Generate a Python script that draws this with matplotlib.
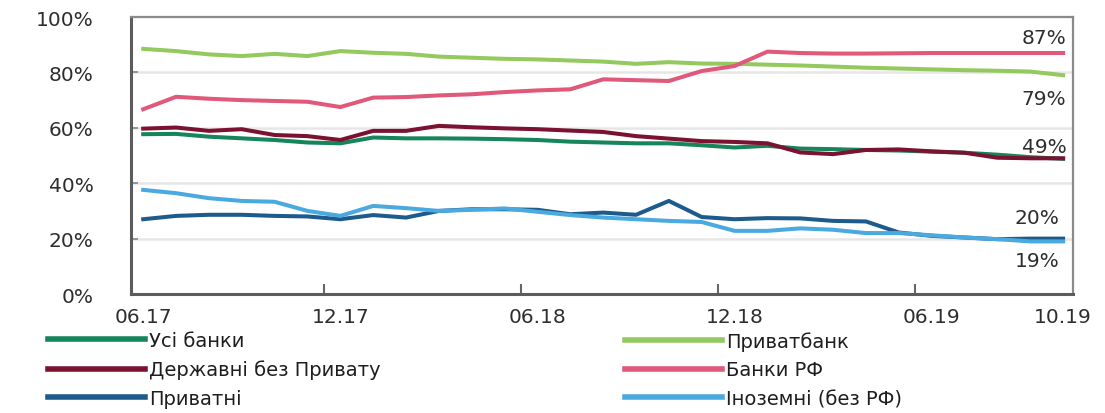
import numpy as np
import pandas as pd
import matplotlib
matplotlib.use("Agg")
import matplotlib.pyplot as plt
from matplotlib.ticker import FixedLocator, FuncFormatter

# Monthly shares, June 2017 - October 2019
months = pd.period_range("2017-06", "2019-10", freq="M")

usi_banky = [57.7, 57.8, 56.8, 56.2, 55.6, 54.7, 54.4, 56.5, 56.2, 56.2, 56.1, 55.9, 55.6, 55.0, 54.7,
             54.4, 54.4, 53.7, 52.9, 53.5, 52.5, 52.3, 52.0, 51.8, 51.4, 51.0, 50.3, 49.4, 48.8]
pryvatbank = [88.5, 87.7, 86.5, 85.9, 86.7, 85.9, 87.7, 87.1, 86.7, 85.7, 85.3, 84.9, 84.7, 84.3, 83.9,
              83.1, 83.7, 83.2, 83.1, 82.8, 82.5, 82.1, 81.7, 81.4, 81.1, 80.8, 80.6, 80.3, 79.0]
derzhavni = [59.7, 60.1, 58.9, 59.5, 57.4, 57.0, 55.6, 58.9, 58.9, 60.7, 60.2, 59.8, 59.5, 59.0, 58.5,
             57.0, 56.1, 55.2, 54.9, 54.4, 51.1, 50.5, 52.0, 52.2, 51.5, 51.0, 49.2, 49.0, 49.0]
banky_rf = [66.7, 71.2, 70.5, 70.0, 69.7, 69.4, 67.5, 70.9, 71.1, 71.7, 72.1, 72.9, 73.5, 73.9, 77.5,
            77.2, 76.9, 80.5, 82.3, 87.5, 87.0, 86.8, 86.8, 86.9, 87.0, 87.0, 87.0, 87.0, 87.0]
pryvatni = [27.0, 28.2, 28.6, 28.6, 28.2, 28.0, 27.0, 28.5, 27.6, 30.0, 30.6, 30.6, 30.4, 28.8, 29.4,
            28.6, 33.6, 27.8, 27.0, 27.4, 27.3, 26.4, 26.2, 22.2, 21.0, 20.4, 19.8, 20.0, 20.0]
inozemni = [37.6, 36.4, 34.6, 33.6, 33.3, 30.0, 28.2, 31.8, 31.0, 30.0, 30.4, 30.9, 29.7, 28.5, 27.6,
            27.0, 26.4, 26.0, 22.8, 22.8, 23.7, 23.2, 22.0, 22.0, 21.2, 20.4, 19.8, 19.0, 19.0]

series_names = ["Усі банки", "Приватбанк", "Державні без Привату", "Банки РФ", "Приватні", "Іноземні (без РФ)"]
series_colors = ["#17855a", "#93c95e", "#7b1232", "#e0587a", "#1d5b8c", "#4aa9df"]

tick_labels = ["06.17", "12.17", "06.18", "12.18", "06.19", "10.19"]
y_ticks = [0, 20, 40, 60, 80, 100]

plt.rcParams["font.family"] = ["DejaVu Sans"]

fig = plt.figure(figsize=(11.05, 4.14), dpi=100)
ax = fig.add_axes([0.1186, 0.2874, 0.8524, 0.6691])

x = np.arange(len(months))
all_series = [usi_banky, pryvatbank, derzhavni, banky_rf, pryvatni, inozemni]
handles = []
for name, vals, col in zip(series_names, all_series, series_colors):
    (ln,) = ax.plot(x, vals, color=col, lw=2.9, solid_joinstyle="round", label=name, zorder=3)
    handles.append(ln)

ax.set_xlim(-0.37, 28.3)
ax.set_ylim(0, 100)

# x labels at the listed months, tick marks between categories
month_codes = [m.strftime("%m.%y") for m in months]
label_pos = [month_codes.index(t) for t in tick_labels]
ax.xaxis.set_major_locator(FixedLocator(label_pos))
ax.set_xticklabels(tick_labels)
ax.xaxis.set_minor_locator(FixedLocator([p - 0.5 for p in label_pos[1:-1]]))
ax.tick_params(axis="x", which="major", length=0, pad=9, labelsize=14.5, labelcolor="#2e2e2e")
ax.tick_params(axis="x", which="minor", direction="in", length=7, width=1.5, color="#666666")

ax.yaxis.set_major_locator(FixedLocator(y_ticks))
ax.yaxis.set_major_formatter(FuncFormatter(lambda v, p: f"{v:.0f}%"))
ax.tick_params(axis="y", direction="in", length=5, width=1.2, color="#888888",
               pad=27, labelsize=14.5, labelcolor="#2e2e2e")

for gy in y_ticks[1:-1]:
    ax.axhline(gy, color="#e6e6e6", lw=1.8, zorder=1)

for side in ["left", "bottom"]:
    ax.spines[side].set_color("#5c5c5c")
    ax.spines[side].set_linewidth(2.2)
for side in ["top", "right"]:
    ax.spines[side].set_color("#8a8a8a")
    ax.spines[side].set_linewidth(1.6)

# End-of-period value labels
end_labels = [(banky_rf, 11.5, 28.1), (pryvatbank, -16.5, 28.1), (derzhavni, 8.5, 28.1),
              (pryvatni, 15.5, 27.9), (inozemni, -14.0, 27.9)]
for vals, dy, xpos in end_labels:
    ax.annotate(f"{vals[-1]:.0f}%", xy=(xpos, vals[-1]), xytext=(0, dy), textcoords="offset points",
                ha="right", va="center", fontsize=14.5, color="#2e2e2e", zorder=4)

legend_kw = dict(frameon=False, fontsize=14, handlelength=5.0, handletextpad=0.2,
                 labelspacing=0.5, borderpad=0, borderaxespad=0, loc="upper left")
leg1 = fig.legend([handles[0], handles[2], handles[4]], [series_names[0], series_names[2], series_names[4]],
                  bbox_to_anchor=(48 / 1105, 1 - 332 / 414), **legend_kw)
leg2 = fig.legend([handles[1], handles[3], handles[5]], [series_names[1], series_names[3], series_names[5]],
                  bbox_to_anchor=(625 / 1105, 1 - 332 / 414), **legend_kw)
for leg in (leg1, leg2):
    for line in leg.get_lines():
        line.set_linewidth(4)
    for t in leg.get_texts():
        t.set_color("#1e1e1e")

fig.savefig("out.png", dpi=100)
